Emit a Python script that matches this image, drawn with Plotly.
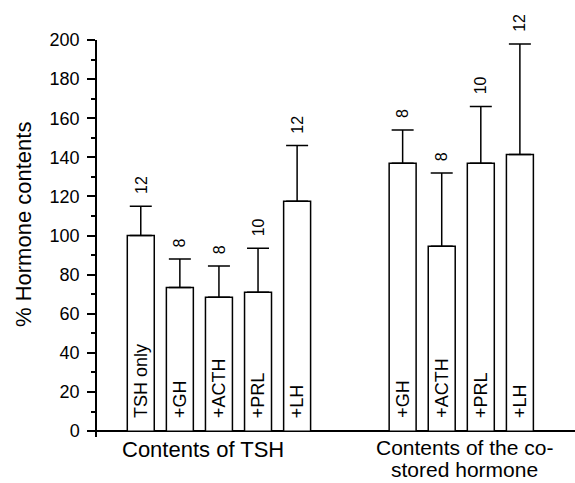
import plotly.graph_objects as go

# Data
groups = ["Contents of TSH", "Contents of the co-stored hormone"]
labels_tsh = ["TSH only", "+GH", "+ACTH", "+PRL", "+LH"]
means_tsh = [100, 73.5, 68.5, 71, 117.5]
sem_tsh = [15, 14.5, 16, 22.5, 28.5]
n_tsh = ["12", "8", "8", "10", "12"]

labels_co = ["+GH", "+ACTH", "+PRL", "+LH"]
means_co = [137, 94.5, 137, 141.5]
sem_co = [17, 37.5, 29, 56.5]
n_co = ["8", "8", "10", "12"]

yticks = [0, 20, 40, 60, 80, 100, 120, 140, 160, 180, 200]

# layout positions (bar slots)
group_start = [0, 6.7]
x_tsh = [group_start[0] + i for i in range(len(labels_tsh))]
x_co = [group_start[1] + i for i in range(len(labels_co))]

xs = x_tsh + x_co
means = means_tsh + means_co
sems = sem_tsh + sem_co
labels = labels_tsh + labels_co
ns = n_tsh + n_co

FONT = "Liberation Sans, Arial, sans-serif"

fig = go.Figure()
fig.add_trace(go.Bar(
    x=xs, y=means, width=0.69,
    marker=dict(color="white", line=dict(color="black", width=1.5)),
    error_y=dict(type="data", array=sems, arrayminus=[0] * len(sems),
                 symmetric=False, color="black", thickness=1.5, width=11),
    showlegend=False, hoverinfo="skip",
))

annotations = []
for x, m, s, lab, n in zip(xs, means, sems, labels, ns):
    annotations.append(dict(x=x, y=0, xref="x", yref="y", text=lab,
                            textangle=-90, showarrow=False, yanchor="bottom",
                            yshift=11, font=dict(family=FONT, size=18, color="black")))
    annotations.append(dict(x=x, y=m + s, xref="x", yref="y", text=n,
                            textangle=-90, showarrow=False, yanchor="bottom",
                            yshift=10, font=dict(family=FONT, size=16, color="black")))

annotations.append(dict(x=1.58, y=0, xref="x", yref="paper", text="Contents of TSH",
                        showarrow=False, yanchor="top", yshift=2,
                        font=dict(family=FONT, size=22, color="black")))
annotations.append(dict(x=8.29, y=0, xref="x", yref="paper", text="Contents of the co-",
                        showarrow=False, yanchor="top", yshift=3,
                        font=dict(family=FONT, size=21, color="black")))
annotations.append(dict(x=8.29, y=0, xref="x", yref="paper", text="stored hormone",
                        showarrow=False, yanchor="top", yshift=-19,
                        font=dict(family=FONT, size=21, color="black")))
annotations.append(dict(x=0, y=0.534, xref="paper", yref="paper", text="% Hormone contents",
                        textangle=-90, showarrow=False, xanchor="center", xshift=-74,
                        font=dict(family=FONT, size=22, color="black")))

fig.update_layout(
    width=575, height=483,
    margin=dict(l=97, r=0, t=40, b=46),
    paper_bgcolor="white", plot_bgcolor="white",
    font=dict(family=FONT, color="black"),
    xaxis=dict(range=[-1.12, 11.11], showline=False, showgrid=False,
               zeroline=False, showticklabels=False, ticks=""),
    yaxis=dict(range=[-3, 200], tickvals=yticks, showline=True, linecolor="black",
               linewidth=1.5, ticks="outside", ticklen=8, tickwidth=1.5,
               tickcolor="black", showgrid=False, zeroline=True,
               zerolinecolor="black", zerolinewidth=1.5,
               tickfont=dict(family=FONT, size=18, color="black"),
               ticklabelstandoff=4,
               minor=dict(tickvals=list(range(10, 200, 20)), ticks="outside",
                          ticklen=4, tickwidth=1.5, tickcolor="black")),
    annotations=annotations,
)

fig.write_html("out.html", config={"displayModeBar": False},
               post_script="document.body.style.margin='0';document.body.style.padding='0';")
